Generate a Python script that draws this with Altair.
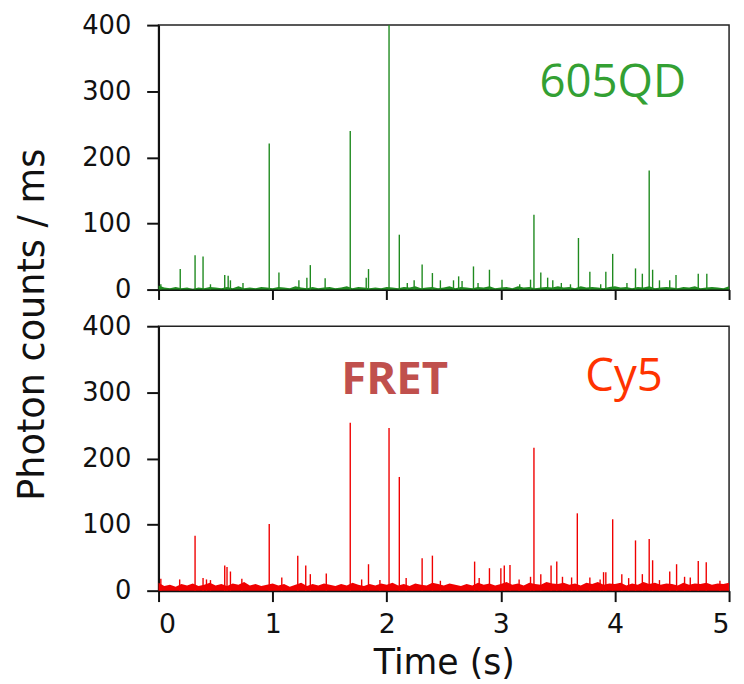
import altair as alt
import pandas as pd

# ---- data ----
green_t = [0.02, 0.19, 0.32, 0.39, 0.455, 0.58, 0.61, 0.63, 0.74, 0.97, 1.055, 1.23, 1.30, 1.33, 1.46,
           1.68, 1.82, 1.84, 2.02, 2.11, 2.18, 2.24, 2.31, 2.40, 2.47, 2.585, 2.63, 2.66, 2.76, 2.80,
           2.90, 3.01, 3.165, 3.26, 3.29, 3.35, 3.41, 3.455, 3.53, 3.61, 3.68, 3.78, 3.875, 3.92, 3.98,
           4.105, 4.18, 4.24, 4.30, 4.33, 4.39, 4.48, 4.535, 4.73, 4.805]
green_v = [8, 31, 52, 50, 8, 22, 21, 14, 10, 221, 26, 14, 18, 37, 17,
           240, 18, 31, 400, 83, 10, 14, 38, 25, 14, 14, 20, 13, 35, 10,
           30, 15, 8, 15, 113, 26, 18, 14, 10, 8, 78, 27, 8, 27, 54,
           10, 32, 24, 180, 30, 14, 14, 22, 24, 24]

red_t = [0.02, 0.185, 0.32, 0.39, 0.42, 0.455, 0.58, 0.60, 0.63, 0.73, 0.97, 1.08, 1.22, 1.29, 1.33,
         1.47, 1.68, 1.78, 1.84, 1.94, 2.02, 2.11, 2.17, 2.31, 2.40, 2.47, 2.77, 2.81, 2.90, 3.00,
         3.03, 3.08, 3.16, 3.26, 3.29, 3.35, 3.44, 3.49, 3.54, 3.62, 3.67, 3.78, 3.87, 3.90, 3.92,
         3.98, 4.06, 4.12, 4.18, 4.24, 4.30, 4.33, 4.39, 4.48, 4.54, 4.61, 4.66, 4.73, 4.80, 4.92]
red_v = [18, 17, 83, 19, 17, 16, 38, 36, 29, 18, 101, 20, 53, 38, 25,
         26, 254, 17, 40, 16, 246, 172, 19, 49, 53, 15, 44, 19, 34, 34,
         38, 39, 17, 21, 216, 25, 38, 44, 21, 20, 117, 20, 17, 28, 28,
         108, 25, 19, 76, 25, 78, 46, 16, 29, 40, 21, 20, 45, 43, 15]

# baseline noise, one value every 0.05 s from 0 to 5 s
base_t = [round(i * 0.05, 2) for i in range(101)]
green_base = [6, 3, 2, 4, 2, 3, 1, 3, 2, 4, 3, 2, 4, 2, 5, 2, 3, 2, 4, 3,
              2, 4, 3, 2, 5, 3, 2, 4, 2, 3, 4, 2, 3, 5, 2, 4, 3, 2, 3, 2,
              4, 3, 2, 4, 3, 5, 2, 3, 4, 2, 3, 5, 2, 4, 3, 2, 4, 3, 5, 2,
              3, 4, 2, 5, 3, 4, 2, 3, 4, 3, 5, 3, 4, 2, 5, 3, 4, 3, 2, 4,
              5, 3, 4, 2, 4, 3, 5, 2, 3, 4, 3, 2, 4, 3, 5, 2, 3, 4, 3, 2, 5]
red_base = [12, 7, 9, 6, 10, 8, 11, 7, 9, 12, 8, 10, 7, 11, 9, 13, 8, 10, 7, 9,
            11, 8, 10, 6, 9, 12, 7, 10, 8, 11, 9, 7, 10, 8, 12, 9, 7, 10, 8, 11,
            9, 12, 8, 10, 7, 11, 9, 8, 12, 10, 8, 11, 9, 7, 10, 8, 12, 9, 11, 8,
            10, 13, 9, 11, 8, 12, 10, 9, 13, 11, 10, 12, 9, 11, 8, 12, 10, 13, 9, 11,
            10, 12, 8, 11, 9, 13, 10, 12, 9, 11, 10, 8, 12, 9, 11, 10, 12, 9, 11, 10, 12]

x_ticks = [0, 1, 2, 3, 4, 5]
y_ticks = [0, 100, 200, 300, 400]

top_label = ["605QD"]
top_label_t = [3.98]
top_label_v = [291]
fret_label = ["FRET"]
fret_label_t = [2.07]
fret_label_v = [297]
cy5_label = ["Cy5"]
cy5_label_t = [4.08]
cy5_label_v = [302]

GREEN = "#1f8a1f"
RED = "#f00000"
W, H = 576, 267


def x_enc(bottom):
    if bottom:
        ax = alt.Axis(values=x_ticks, title="Time (s)", tickSize=11, labelPadding=10,
                      labelFontSize=27, titleFontSize=35, titlePadding=9, format="d")
    else:
        ax = alt.Axis(values=x_ticks, title=None, labels=False, tickSize=10)
    return alt.X("t:Q", scale=alt.Scale(domain=[0, 5], nice=False, zero=False), axis=ax)


def y_enc(top):
    if top:
        ax = alt.Axis(values=y_ticks, title="Photon counts / ms", tickSize=12, labelPadding=16,
                      labelFontSize=26, titleFontSize=37, titleX=-116, titleY=302,
                      titleAngle=270, titleAlign="center", titleBaseline="alphabetic")
    else:
        ax = alt.Axis(values=y_ticks, title=None, tickSize=12, labelPadding=16, labelFontSize=26)
    return alt.Y("v:Q", scale=alt.Scale(domain=[0, 400], nice=False, clamp=True), axis=ax)


def panel(top, spikes_t, spikes_v, base_v, color, labels):
    xe = x_enc(not top)
    ye = y_enc(top)
    base = alt.Chart(pd.DataFrame({"t": base_t, "v": base_v})).mark_area(
        color=color, opacity=1, interpolate="linear"
    ).encode(x=xe, y=ye)
    spikes = alt.Chart(pd.DataFrame({"t": spikes_t, "v": spikes_v})).mark_rule(
        color=color, strokeWidth=1.4
    ).encode(x=xe, y=ye, y2=alt.datum(0))
    layers = [base, spikes]
    for (txt, tt, vv, col, weight) in labels:
        layers.append(
            alt.Chart(pd.DataFrame({"t": tt, "v": vv, "label": txt})).mark_text(
                font="Open Sans", fontSize=46, fontWeight=weight, color=col,
                align="center", baseline="alphabetic"
            ).encode(x=xe, y=ye, text="label:N")
        )
    return alt.layer(*layers).properties(width=W, height=H)


top = panel(True, green_t, green_v, green_base, GREEN,
            [(top_label, top_label_t, top_label_v, "#33a033", "normal")])
bottom = panel(False, red_t, red_v, red_base, RED,
               [(fret_label, fret_label_t, fret_label_v, "#c0504d", "bold"),
                (cy5_label, cy5_label_t, cy5_label_v, "#ff3300", "normal")])

chart = alt.vconcat(top, bottom, spacing=37, bounds="flush").properties(
    padding={"left": 5, "top": 0, "right": 5, "bottom": 5},
    background="white",
).configure_view(
    stroke="#222", strokeWidth=1.5
).configure_axis(
    grid=False, domainColor="#111", domainWidth=2, tickColor="#111", tickWidth=2,
    labelFont="DejaVu Sans", titleFont="DejaVu Sans", titleFontWeight="normal",
    labelColor="#111", titleColor="#111"
)

chart.save("out.html", embed_options={"renderer": "svg", "actions": False})
